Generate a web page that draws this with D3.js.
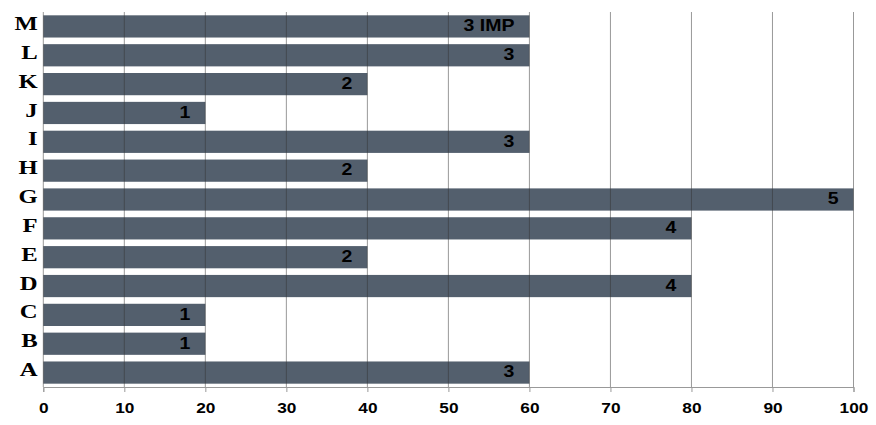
<!DOCTYPE html>
<html><head><meta charset="utf-8">
<script src="https://cdn.jsdelivr.net/npm/d3@7"></script>
<style>body{margin:0;background:#fff}</style>
</head><body>
<svg id="c" width="876" height="425"></svg>
<script>
const categories = ["A","B","C","D","E","F","G","H","I","J","K","L","M"];
const values = [60,20,20,80,40,80,100,40,60,20,40,60,60];
const labels = ["3","1","1","4","2","4","5","2","3","1","2","3","3 IMP"];
const ticks = [0,10,20,30,40,50,60,70,80,90,100];

const svg = d3.select("#c");
const x = d3.scaleLinear().domain([0,100]).range([43.3,853.5]);
const y = d3.scaleBand().domain(categories.slice().reverse()).range([12,387]).paddingInner(0.23).paddingOuter(0.115);

const data = categories.map((c,i)=>({c, v:values[i], l:labels[i]}));

svg.selectAll("rect.bar").data(data).join("rect")
  .attr("class","bar")
  .attr("x", x(0)).attr("y", d=>y(d.c))
  .attr("width", d=>x(d.v)-x(0)).attr("height", y.bandwidth())
  .attr("fill","#535f6d");

// gridlines
svg.selectAll("line.grid").data(ticks).join("line")
  .attr("class","grid")
  .attr("x1",d=>x(d)).attr("x2",d=>x(d))
  .attr("y1",12).attr("y2",387)
  .attr("stroke","#333").attr("stroke-opacity",0.5).attr("stroke-width",1);

// x axis
const ax = svg.append("g").attr("transform","translate(0,387)")
  .call(d3.axisBottom(x).tickValues(ticks).tickSize(5));
ax.select(".domain").attr("stroke","#999");
ax.selectAll(".tick line").attr("stroke","#999");
ax.selectAll(".tick text")
  .attr("y",26.5).attr("dy",null)
  .attr("transform","scale(1.15,1)")
  .attr("font-family","Liberation Sans, Arial, sans-serif")
  .attr("font-weight","bold").attr("font-size","15px").attr("fill","#000");

// category labels
svg.selectAll("text.cat").data(data).join("text")
  .attr("class","cat")
  .attr("transform",d=>`translate(37.7,${y(d.c)+y.bandwidth()/2+3.6}) scale(1.3,1)`)
  .attr("text-anchor","end")
  .attr("font-family","Liberation Serif, Times New Roman, serif")
  .attr("font-weight","bold").attr("font-size","19px").attr("fill","#000")
  .text(d=>d.c);

// value labels
svg.selectAll("text.val").data(data).join("text")
  .attr("class","val")
  .attr("transform",d=>`translate(${x(d.v)-15},${y(d.c)+y.bandwidth()/2+4.8}) scale(1.22,1)`)
  .attr("text-anchor","end")
  .attr("font-family","Liberation Sans, Arial, sans-serif")
  .attr("font-weight","bold").attr("font-size","16px").attr("fill","#000")
  .text(d=>d.l);
</script>
</body></html>
